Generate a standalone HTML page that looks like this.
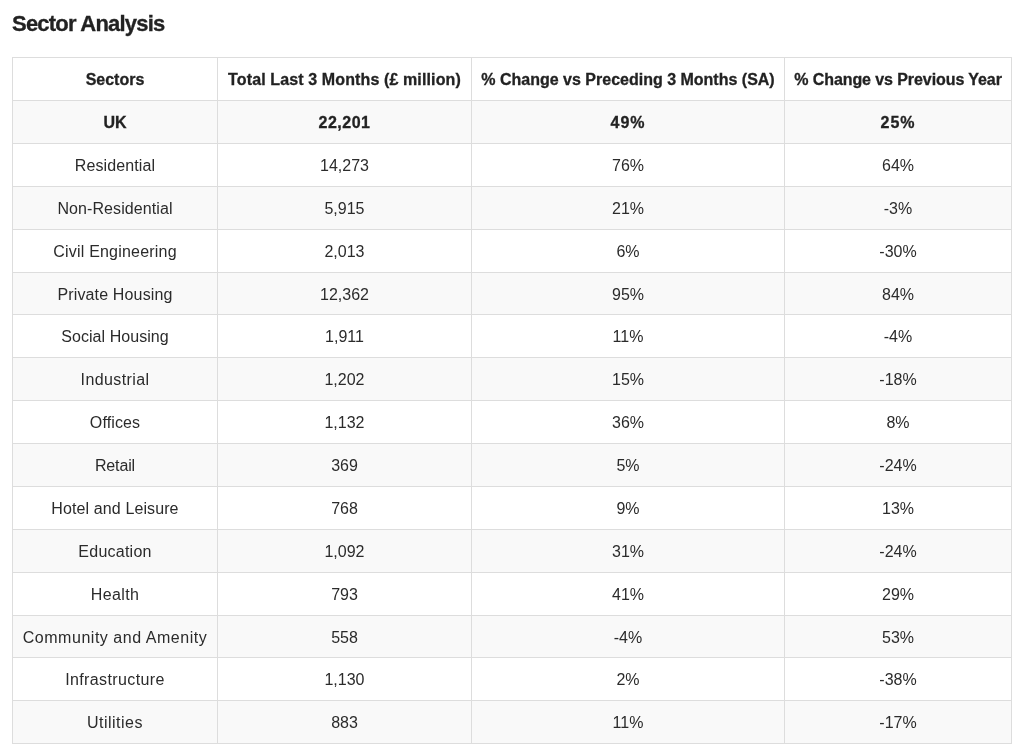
<!DOCTYPE html>
<html lang="en">
<head>
<meta charset="utf-8">
<title>Sector Analysis</title>
<style>
  html, body { margin: 0; padding: 0; background: #fff; }
  body {
    width: 1018px; height: 751px; overflow: hidden; position: relative;
    font-family: "Liberation Sans", Arial, sans-serif;
    color: #2b2b2b; font-size: 16px;
  }
  h3 {
    position: absolute; left: 11.7px; top: 10px; margin: 0;
    font-size: 22px; line-height: 28px; font-weight: bold; color: #222;
    white-space: nowrap; letter-spacing: -0.78px; -webkit-text-stroke: 0.3px #222;
    will-change: transform;
  }
  table {
    position: absolute; left: 12px; top: 57px;
    width: 1000px; border-collapse: collapse; table-layout: fixed;
    will-change: transform;
  }
  th, td {
    border: 1px solid #ddd; text-align: center; padding: 2px 0 0 0;
    height: 40px; line-height: 22px; white-space: nowrap; font-size: 16px;
  }
  tr.short td { height: 39px; }
  th.c2 { letter-spacing: 0.12px; }
  th.c4 { letter-spacing: -0.08px; }
  th, tr.uk td { font-weight: bold; color: #222; -webkit-text-stroke: 0.3px #222; }
  tbody tr:nth-child(odd) td { background: #f9f9f9; }
</style>
</head>
<body>
<h3>Sector Analysis</h3>
<table>
  <colgroup><col style="width:205px"><col style="width:254px"><col style="width:313px"><col style="width:227px"></colgroup>
  <thead>
    <tr><th>Sectors</th><th class="c2">Total Last 3 Months (£ million)</th><th>% Change vs Preceding 3 Months (SA)</th><th class="c4">% Change vs Previous Year</th></tr>
  </thead>
  <tbody>
    <tr class="uk"><td>UK</td><td style="letter-spacing:0.5px">22,201</td><td style="letter-spacing:1px">49%</td><td style="letter-spacing:1px">25%</td></tr>
    <tr><td style="letter-spacing:0.12px">Residential</td><td>14,273</td><td>76%</td><td>64%</td></tr>
    <tr><td style="letter-spacing:0.09px">Non-Residential</td><td>5,915</td><td>21%</td><td>-3%</td></tr>
    <tr><td style="letter-spacing:0.2px">Civil Engineering</td><td>2,013</td><td>6%</td><td>-30%</td></tr>
    <tr class="short"><td style="letter-spacing:0.15px">Private Housing</td><td>12,362</td><td>95%</td><td>84%</td></tr>
    <tr><td style="letter-spacing:0.06px">Social Housing</td><td>1,911</td><td>11%</td><td>-4%</td></tr>
    <tr><td style="letter-spacing:0.39px">Industrial</td><td>1,202</td><td>15%</td><td>-18%</td></tr>
    <tr><td style="letter-spacing:0.11px">Offices</td><td>1,132</td><td>36%</td><td>8%</td></tr>
    <tr><td style="letter-spacing:-0.13px">Retail</td><td>369</td><td>5%</td><td>-24%</td></tr>
    <tr><td style="letter-spacing:0.11px">Hotel and Leisure</td><td>768</td><td>9%</td><td>13%</td></tr>
    <tr><td style="letter-spacing:0.24px">Education</td><td>1,092</td><td>31%</td><td>-24%</td></tr>
    <tr><td style="letter-spacing:0.37px">Health</td><td>793</td><td>41%</td><td>29%</td></tr>
    <tr class="short"><td style="letter-spacing:0.53px">Community and Amenity</td><td>558</td><td>-4%</td><td>53%</td></tr>
    <tr><td style="letter-spacing:0.39px">Infrastructure</td><td>1,130</td><td>2%</td><td>-38%</td></tr>
    <tr><td style="letter-spacing:0.48px">Utilities</td><td>883</td><td>11%</td><td>-17%</td></tr>
  </tbody>
</table>
</body>
</html>
